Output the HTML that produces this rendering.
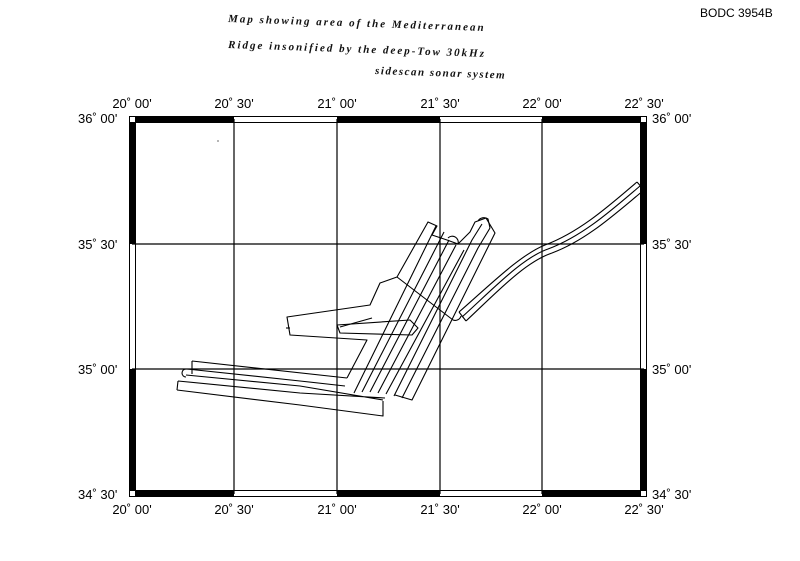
<!DOCTYPE html>
<html><head><style>
body{margin:0;background:#fff;}
svg{display:block;font-family:"Liberation Sans",sans-serif;}
</style></head><body>
<svg width="800" height="561" viewBox="0 0 800 561" xmlns="http://www.w3.org/2000/svg">
<rect width="800" height="561" fill="#fff"/>
<text x="700" y="17" font-size="12">BODC 3954B</text>
<g font-family="Liberation Serif,serif" font-style="italic" font-weight="bold" font-size="11" fill="#111">
<text x="228" y="22" transform="rotate(2 228 22)" letter-spacing="2">Map  showing  area  of  the  Mediterranean</text>
<text x="228" y="48" transform="rotate(2 228 48)" letter-spacing="2">Ridge  insonified  by  the  deep-Tow  30kHz</text>
<text x="375" y="74" transform="rotate(2 375 74)" letter-spacing="1.5">sidescan  sonar  system</text>
</g>
<g font-size="13" fill="#000" text-anchor="middle">
<text x="132" y="108">20˚ 00'</text><text x="234" y="108">20˚ 30'</text><text x="337" y="108">21˚ 00'</text><text x="440" y="108">21˚ 30'</text><text x="542" y="108">22˚ 00'</text><text x="644" y="108">22˚ 30'</text>
<text x="132" y="514">20˚ 00'</text><text x="234" y="514">20˚ 30'</text><text x="337" y="514">21˚ 00'</text><text x="440" y="514">21˚ 30'</text><text x="542" y="514">22˚ 00'</text><text x="644" y="514">22˚ 30'</text>
</g>
<g font-size="13" fill="#000">
<text x="78" y="123">36˚ 00'</text><text x="78" y="249">35˚ 30'</text><text x="78" y="374">35˚ 00'</text><text x="78" y="499">34˚ 30'</text>
<text x="652" y="123">36˚ 00'</text><text x="652" y="249">35˚ 30'</text><text x="652" y="374">35˚ 00'</text><text x="652" y="499">34˚ 30'</text>
</g>
<!-- grid -->
<g stroke="#000" stroke-width="1.2" fill="none">
<line x1="234" y1="119" x2="234" y2="494"/><line x1="337" y1="119" x2="337" y2="494"/><line x1="440" y1="119" x2="440" y2="494"/><line x1="542" y1="119" x2="542" y2="494"/>
<line x1="132" y1="244" x2="644" y2="244"/><line x1="132" y1="369" x2="644" y2="369"/>
</g>
<!-- frame bands -->
<g stroke="#000" stroke-width="1">
<rect x="129.5" y="116.5" width="517" height="380" fill="none"/>
<rect x="135.5" y="122.5" width="505" height="368" fill="none"/>
</g>
<g fill="#000">
<rect x="135" y="116" width="99" height="6"/><rect x="337" y="116" width="103" height="6"/><rect x="542" y="116" width="99" height="6"/>
<rect x="135" y="491" width="99" height="6"/><rect x="337" y="491" width="103" height="6"/><rect x="542" y="491" width="99" height="6"/>
<rect x="129" y="122" width="6" height="122"/><rect x="129" y="369" width="6" height="122"/>
<rect x="641" y="122" width="6" height="122"/><rect x="641" y="369" width="6" height="122"/>
</g>
<!-- tracks -->
<g stroke="#000" stroke-width="1.1" fill="none" stroke-linejoin="round">
<path d="M192,361 L347,378 M192,361 L192,374 M187,369 L300,381 L345,386 M186,375 L300,386 L383,400 M178,381 L300,393 L385,398 M178,381 L177,390 M177,390 L300,405 L383,416 L383,401"/>
<path d="M186,369 a4,4 0 0 0 0,8"/>
<path d="M347,378 L367,340 L290,335 L287,317 L370,305 L380,283 L397,277 L428,222 L437,226 L432,235 L447,240 L458,244 L470,232 L475,222 L486,218 L495,233 L412,400 L395,395"/>
<path d="M397,277 L453,320 a6,6 0 0 0 8,-4"/>
<path d="M458,244 a6,6 0 0 0 -10,-6"/>
<path d="M478,221 a7,7 0 0 1 10,-2 L490,228"/>
<g>
<path d="M354,393 L436,226"/>
<path d="M362,392 L444,232"/>
<path d="M370,392 L449,240"/>
<path d="M378,393 L456,245"/>
<path d="M386,394 L464,250"/>
<path d="M394,396 L472,240 L482,224"/>
<path d="M402,398 L478,248 L490,228"/>
</g>
<path d="M337,325 L410,320 L418,328 L412,335 L340,333 Z"/>
<path d="M340,327 L372,318"/>
<path d="M290,328 l-4,0"/>
</g>
<!-- NE track -->
<g stroke="#000" stroke-width="1.1" fill="none">
<path d="M459,312 C490,285 520,255 545,245 C580,232 610,205 637,182"/>
<path d="M466,321 C497,292 525,262 552,253 C587,240 616,213 644,190"/>
<path d="M462,317 C493,289 522,258 548,249 C583,236 613,209 640,186"/>
<path d="M459,312 L466,321 M637,182 L644,190"/>
</g>
<circle cx="218" cy="141" r="0.6" fill="#000"/>
</svg>
</body></html>
